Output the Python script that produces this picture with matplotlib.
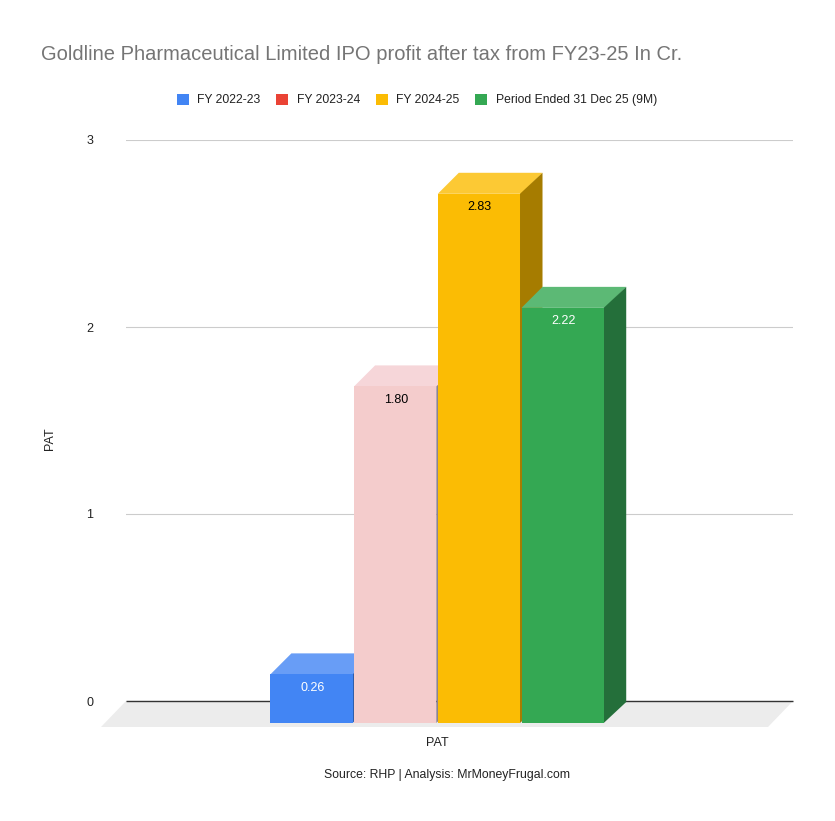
import numpy as np
import matplotlib.pyplot as plt
from matplotlib.patches import Patch

plt.rcParams['font.family'] = ['Liberation Sans', 'DejaVu Sans']

# ------------------- DATA ----------------
category = ['PAT']
series = ['FY 2022-23', 'FY 2023-24', 'FY 2024-25', 'Period Ended 31 Dec 25 (9M)']
pat = [0.26, 1.80, 2.83, 2.22]
y_ticks = [0, 1, 2, 3]

# front, top, side colours of each bar
legend_colors = ['#4285f4', '#ea4335', '#fbbc04', '#34a853']
front_colors = ['#4285f4', '#f4cccc', '#fbbc04', '#34a853']
top_colors = ['#689df6', '#f6d6d9', '#fcc934', '#5cb975']
side_colors = ['#2e5dab', '#8f8290', '#a67c00', '#246f3a']
label_colors = ['white', 'black', 'black', 'white']

W, H = 835, 821
fig = plt.figure(figsize=(W / 100, H / 100), dpi=100)
ax = fig.add_axes([126 / W, (H - 701) / H, (793 - 126) / W, (701 - 140) / H])
ax.set_xlim(-0.5, 0.5)
ax.set_ylim(0, 3)

# depth of the fake 3D look, in data units
depth_x = 21 / 667
depth_up = 21 / 187
front_dx = 21.7 / 667  # how far the front faces sit left of the axis centre
front_dy = 22 / 187    # and how far below the zero line
bar_w = 0.1255
sliver = 1.5 / 667     # dark edge left showing between neighbouring bars

for s in ax.spines.values():
    s.set_visible(False)

# ------------------- GRID AND FLOOR ----------------
ax.set_yticks(y_ticks)
ax.grid(axis='y', color='#cccccc', lw=0.8, zorder=0)
ax.set_axisbelow(True)
ax.fill([-0.5, 0.5, 0.5 - 25 / 667, -0.5 - 25 / 667],
        [0, 0, -26 / 187, -26 / 187],
        color='#ececec', lw=0, clip_on=False, zorder=1)
ax.axhline(0, color='#333333', lw=1.0, zorder=1.5, solid_capstyle='butt', clip_on=False)

# ------------------- BARS ----------------
x_pos = (np.arange(len(series)) - 1.5) * bar_w - front_dx
for i, val in enumerate(pat):
    x0 = x_pos[i] - bar_w / 2
    x1 = x_pos[i] + bar_w / 2
    y0 = -front_dy
    y1 = val - front_dy
    z = 2 + i
    # top face
    ax.fill([x0, x1, x1 + depth_x, x0 + depth_x], [y1, y1, y1 + depth_up, y1 + depth_up],
            color=top_colors[i], lw=0, clip_on=False, zorder=z)
    # side face
    ax.fill([x1 - sliver, x1 + depth_x, x1 + depth_x, x1 - sliver], [y0, y0 + depth_up, y1 + depth_up, y1],
            color=side_colors[i], lw=0, clip_on=False, zorder=z)
    # front face
    ax.bar(x0, val, width=bar_w - sliver, bottom=y0, align='edge', color=front_colors[i], lw=0,
           clip_on=False, zorder=z + 0.1)
    ax.annotate('%.2f' % val, (x_pos[i], y1), xytext=(0, -9.5), textcoords='offset points',
                ha='center', va='center', fontsize=9, color=label_colors[i], zorder=z + 0.2)

# ------------------- TEXT ----------------
ax.set_xticks([-front_dx])
ax.set_xticklabels(category)
ax.tick_params(axis='x', length=0, pad=26, labelsize=9, labelcolor='#222222')
ax.tick_params(axis='y', length=0, pad=23.5, labelsize=9, labelcolor='#222222')
for lab in ax.get_yticklabels():
    lab.set_horizontalalignment('right')

fig.text(49.5 / W, 1 - 439 / H, 'PAT', rotation=90, ha='center', va='center',
         fontsize=9, color='#222222')
fig.text(41 / W, 1 - 55 / H, 'Goldline Pharmaceutical Limited IPO profit after tax from FY23-25 In Cr.',
         ha='left', va='center', fontsize=14.5, color='#757575')
fig.text(447 / W, 1 - 775 / H, 'Source: RHP | Analysis: MrMoneyFrugal.com',
         ha='center', va='center', fontsize=8.8, color='#222222')

handles = [Patch(facecolor=c, edgecolor='none', label=s) for c, s in zip(legend_colors, series)]
fig.legend(handles=handles, ncol=4, frameon=False, fontsize=8.7, loc='center',
           bbox_to_anchor=(417 / W, 1 - 100 / H), handlelength=1.0, handleheight=1.0,
           handletextpad=0.7, columnspacing=1.3, labelcolor='#222222')

fig.savefig('out.png', dpi=100)
